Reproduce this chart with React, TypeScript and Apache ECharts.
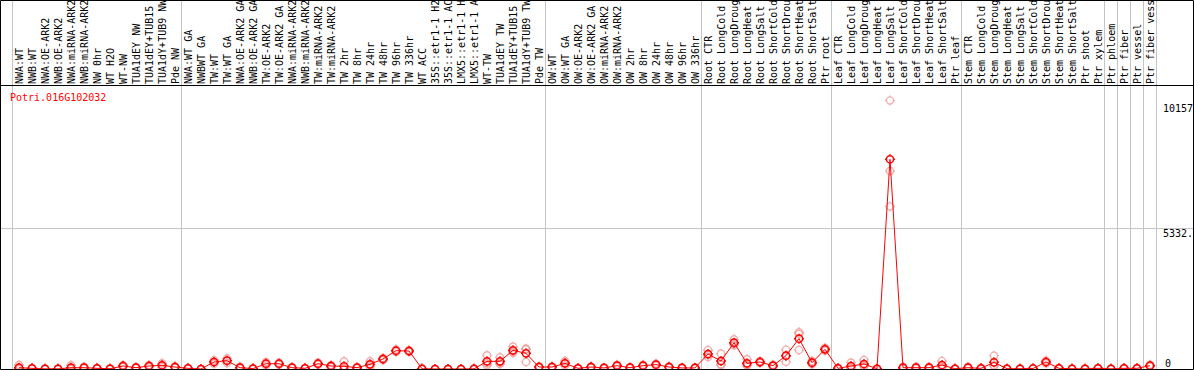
import React, { useEffect, useRef } from 'react';
import * as echarts from 'echarts';

const geneName = 'Potri.016G102032';

const categories = [
  'NWA:WT', 'NWB:WT', 'NWA:OE-ARK2', 'NWB:OE-ARK2', 'NWA:miRNA-ARK2', 'NWB:miRNA-ARK2',
  'NW 0hr', 'WT H2O', 'WT-NW', 'TUA1dEY NW', 'TUA1dEY+TUB15 NW', 'TUA1dY+TUB9 NW', 'Pde NW',
  'NWA:WT GA', 'NWBWT GA', 'TW:WT', 'TW:WT GA', 'NWA:OE-ARK2 GA', 'NWB:OE-ARK2 GA',
  'TW:OE-ARK2', 'TW:OE-ARK2 GA', 'NWA:miRNA-ARK2 GA', 'NWB:miRNA-ARK2 GA', 'TW:miRNA-ARK2',
  'TW:miRNA-ARK2 GA', 'TW 2hr', 'TW 8hr', 'TW 24hr', 'TW 48hr', 'TW 96hr', 'TW 336hr',
  'WT ACC', '35S::etr1-1 H2O', '35S::etr1-1 ACC', 'LMX5::etr1-1 H2O', 'LMX5::etr1-1 ACC',
  'WT-TW', 'TUA1dEY TW', 'TUA1dEY+TUB15 TW', 'TUA1dY+TUB9 TW', 'Pde TW',
  'OW:WT', 'OW:WT GA', 'OW:OE-ARK2', 'OW:OE-ARK2 GA', 'OW:miRNA-ARK2', 'OW:miRNA-ARK2 GA',
  'OW 2hr', 'OW 8hr', 'OW 24hr', 'OW 48hr', 'OW 96hr', 'OW 336hr',
  'Root CTR', 'Root LongCold', 'Root LongDrought', 'Root LongHeat', 'Root LongSalt',
  'Root ShortCold', 'Root ShortDrought', 'Root ShortHeat', 'Root ShortSalt', 'Ptr root',
  'Leaf CTR', 'Leaf LongCold', 'Leaf LongDrought', 'Leaf LongHeat', 'Leaf LongSalt',
  'Leaf ShortCold', 'Leaf ShortDrought', 'Leaf ShortHeat', 'Leaf ShortSalt', 'Ptr leaf',
  'Stem CTR', 'Stem LongCold', 'Stem LongDrought', 'Stem LongHeat', 'Stem LongSalt',
  'Stem ShortCold', 'Stem ShortDrought', 'Stem ShortHeat', 'Stem ShortSalt', 'Ptr shoot', 'Ptr xylem',
  'Ptr phloem', 'Ptr fiber', 'Ptr vessel', 'Ptr fiber vessel',
];

const means = [
  50, 25, 5, 5, 50, 50, 25, 10, 113, 50, 113, 140, 75,
  25, 0, 265, 315, 50, 15, 200, 200, 50, 25, 200, 113, 100, 50, 175, 378, 692, 680,
  10, 0, 0, 0, 5, 290, 290, 705, 593, 75,
  75, 215, 25, 75, 40, 125, 50, 125, 165, 75, 40, 40,
  567, 303, 995, 215, 265, 125, 504, 1147, 240, 745,
  25, 113, 189, 10, 7931, 50, 50, 50, 150, 10,
  50, 25, 252, 10, 10, 20, 265, 25, 10, 5, 25,
  5, 25, 25, 125,
];

const repA = [
  150, 40, 10, 10, 140, 80, 40, 20, 150, 70, 150, 214, 100,
  40, 0, 330, 400, 80, 25, 260, 240, 70, 40, 240, 150, 290, 70, 290, 420, 740, 720,
  20, 0, 0, 0, 10, 517, 441, 845, 744, 100,
  100, 300, 40, 100, 60, 160, 70, 160, 200, 100, 60, 60,
  719, 580, 1122, 365, 300, 160, 730, 1390, 300, 800,
  40, 240, 340, 20, 10157, 80, 80, 80, 303, 20,
  80, 40, 504, 20, 20, 30, 320, 40, 20, 10, 40,
  10, 40, 40, 160,
];

const repB = [
  0, 25, 5, 5, 10, 50, 25, 10, 113, 50, 120, 130, 75,
  25, 0, 265, 320, 50, 15, 200, 200, 50, 25, 200, 113, 10, 50, 150, 380, 690, 680,
  10, 0, 0, 0, 5, 214, 240, 660, 770, 75,
  75, 215, 25, 75, 40, 125, 50, 125, 165, 75, 40, 40,
  530, 176, 960, 150, 265, 125, 505, 1330, 240, 745,
  25, 60, 120, 10, 7488, 50, 50, 50, 80, 10,
  50, 25, 140, 10, 10, 20, 265, 25, 10, 5, 25,
  5, 25, 25, 125,
];

const repC = [
  0, 10, 0, 0, 0, 20, 10, 0, 76, 30, 70, 76, 50,
  10, 0, 200, 225, 20, 5, 140, 160, 30, 10, 160, 76, 0, 30, 85, 335, 646, 640,
  0, 0, 0, 0, 0, 139, 189, 610, 265, 50,
  50, 130, 10, 50, 20, 90, 30, 90, 130, 50, 20, 20,
  452, 153, 903, 130, 230, 90, 277, 720, 180, 690,
  10, 40, 107, 0, 6148, 20, 20, 20, 67, 0,
  20, 10, 112, 0, 0, 10, 210, 10, 0, 0, 10,
  0, 10, 10, 90,
];

// group separators are drawn after these category indexes
const separatorsAfter = [-1, 12, 40, 52, 62, 72, 83, 84, 85, 86, 87];

const yMax = 10665;
const yMid = 5332.5;
const dataMax = 10157;
const yLabelTop = '10157';
const yLabelMid = '5332.';
const yLabelZero = '0';

const MONO = '"DejaVu Sans Mono", "Liberation Mono", monospace';
const MARKER =
  'path://M1.4,5C1.4,3.012,3.012,1.4,5,1.4C6.988,1.4,8.6,3.012,8.6,5C8.6,6.988,6.988,8.6,5,8.6C3.012,8.6,1.4,6.988,1.4,5Z' +
  'M5,0L5,1.4M5,8.6L5,10M0,5L1.4,5M8.6,5L10,5';

export default function App() {
  const ref = useRef<HTMLDivElement>(null);

  useEffect(() => {
    document.body.style.margin = '0';
    if (!ref.current) return;
    const chart = echarts.init(ref.current, null, { renderer: 'svg' });

    const repData: number[][] = [];
    [repA, repB, repC].forEach((arr) => {
      arr.forEach((v, i) => repData.push([i, v]));
    });

    chart.setOption({
      animation: false,
      grid: { left: 12.5, width: 1144, top: 87, height: 282, containLabel: false },
      xAxis: {
        type: 'category',
        position: 'top',
        data: categories,
        boundaryGap: true,
        axisLine: { show: false },
        axisTick: { show: false },
        splitLine: { show: false },
        axisLabel: { show: false, interval: 0 },
      },
      yAxis: {
        type: 'value',
        min: 0,
        max: yMax,
        show: false,
        splitLine: { show: false },
      },
      series: [
        {
          type: 'scatter',
          data: repData,
          symbol: MARKER,
          symbolSize: 10,
          z: 2,
          itemStyle: { color: 'rgba(0,0,0,0)', borderColor: '#f19a9a', borderWidth: 1.4 },
        },
        {
          type: 'line',
          data: means,
          symbol: MARKER,
          symbolSize: 10,
          showSymbol: true,
          showAllSymbol: true,
          z: 3,
          lineStyle: { color: '#ff0000', width: 1 },
          itemStyle: { color: 'rgba(0,0,0,0)', borderColor: '#ff0000', borderWidth: 1.5 },
        },
      ],
    });

    const yPix = (v: number) => chart.convertToPixel({ yAxisIndex: 0 }, v) as number;
    const xPix = (i: number) => chart.convertToPixel({ xAxisIndex: 0 }, i) as number;
    const bandW = 1144 / categories.length;
    const leftEdge = xPix(0) - bandW / 2;

    const sepLines = separatorsAfter.map((k) => {
      const x = Math.round(leftEdge + bandW * (k + 1) - 1) + 0.5;
      return {
        type: 'line',
        silent: true,
        z: 1,
        shape: { x1: x, y1: 0, x2: x, y2: 369 },
        style: { stroke: '#c4c4c4', lineWidth: 1 },
      };
    });

    const catLabels = categories.map((name, i) => ({
      type: 'text',
      silent: true,
      z: 5,
      x: xPix(i) + 0.5,
      y: 84,
      rotation: Math.PI / 2,
      style: {
        text: name,
        fill: '#000',
        font: `10px ${MONO}`,
        align: 'left',
        verticalAlign: 'middle',
      },
    }));

    const midY = Math.round(yPix(yMid)) + 0.5;

    chart.setOption({
      graphic: [
        ...sepLines,
        ...catLabels,
        {
          type: 'line',
          silent: true,
          z: 1,
          shape: { x1: 0, y1: midY, x2: 1194, y2: midY },
          style: { stroke: '#c4c4c4', lineWidth: 1 },
        },
        {
          type: 'line',
          silent: true,
          z: 10,
          shape: { x1: 0, y1: 85.5, x2: 1194, y2: 85.5 },
          style: { stroke: '#000', lineWidth: 1 },
        },
        {
          type: 'rect',
          silent: true,
          z: 10,
          shape: { x: 0.5, y: 0.5, width: 1193, height: 369 },
          style: { fill: 'none', stroke: '#000', lineWidth: 1 },
        },
        {
          type: 'text',
          silent: true,
          z: 10,
          x: 10,
          y: 97,
          style: {
            text: geneName,
            fill: '#ff0000',
            font: `10px ${MONO}`,
            verticalAlign: 'middle',
          },
        },
        {
          type: 'text',
          silent: true,
          z: 10,
          x: 1163,
          y: Math.round(yPix(dataMax)) + 3,
          style: { text: yLabelTop, fill: '#000', font: `10px ${MONO}`, verticalAlign: 'top' },
        },
        {
          type: 'text',
          silent: true,
          z: 10,
          x: 1163,
          y: midY,
          style: { text: yLabelMid, fill: '#000', font: `10px ${MONO}`, verticalAlign: 'top' },
        },
        {
          type: 'text',
          silent: true,
          z: 10,
          x: 1165,
          y: Math.round(yPix(0)) - 1,
          style: { text: yLabelZero, fill: '#000', font: `10px ${MONO}`, verticalAlign: 'bottom' },
        },
      ],
    });

    return () => chart.dispose();
  }, []);

  return <div ref={ref} style={{ width: 1194, height: 370 }} />;
}
